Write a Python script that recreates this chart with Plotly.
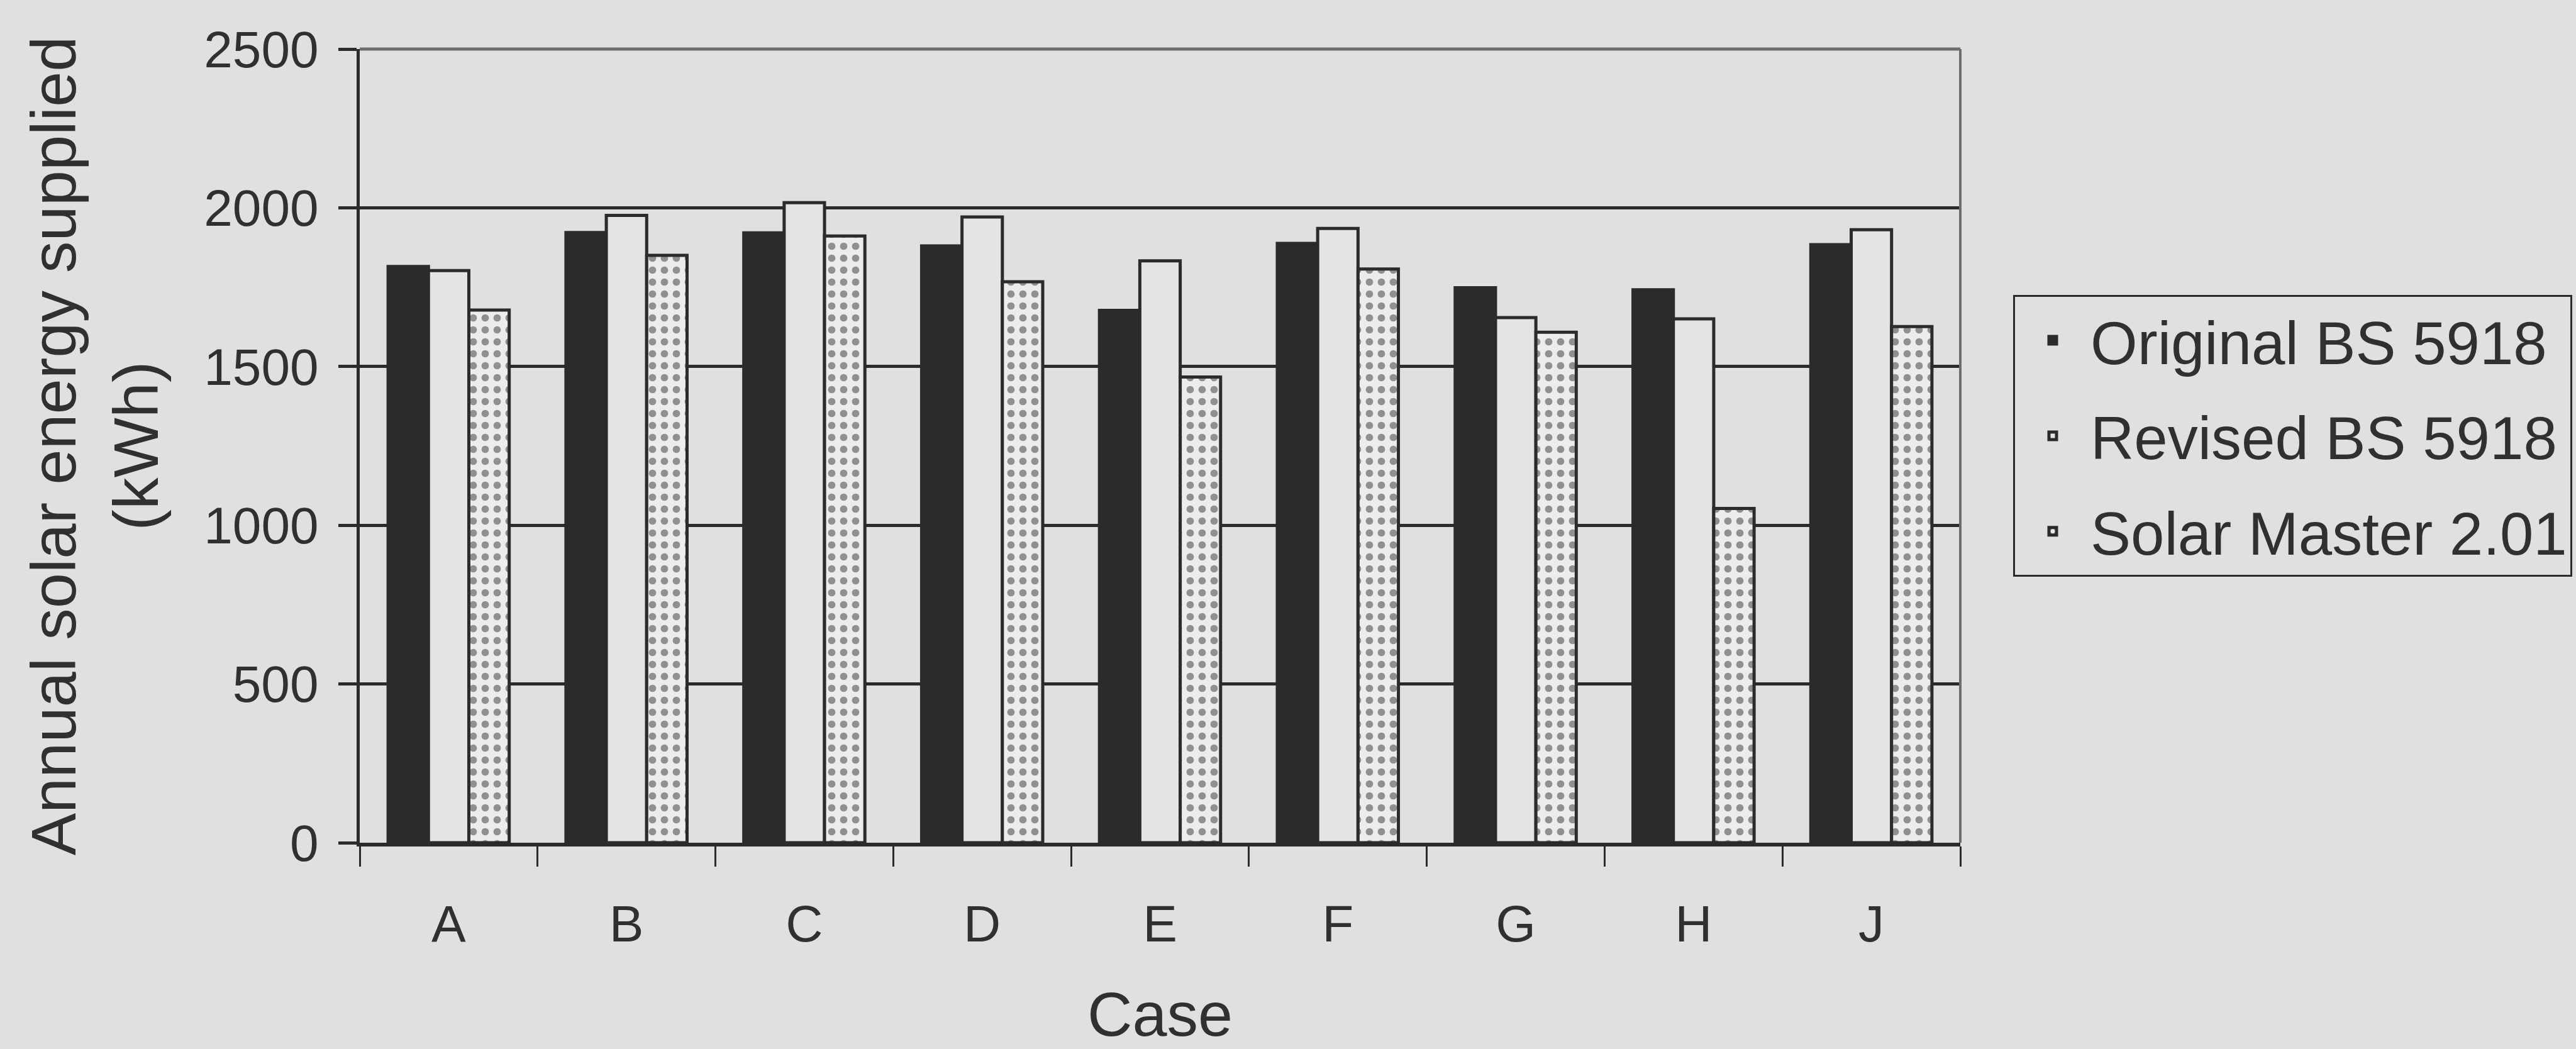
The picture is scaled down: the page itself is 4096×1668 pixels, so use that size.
import plotly.graph_objects as go

# ---- data ----
cases = ["A", "B", "C", "D", "E", "F", "G", "H", "J"]
original_bs5918 = [1815, 1922, 1921, 1880, 1677, 1888, 1748, 1742, 1884]
revised_bs5918 = [1802, 1976, 2016, 1971, 1833, 1935, 1654, 1650, 1931]
solar_master_201 = [1678, 1850, 1911, 1767, 1467, 1807, 1608, 1053, 1626]
y_tick_values = [0, 500, 1000, 1500, 2000, 2500]

# ---- styling ----
BG = "#e0e0e0"
INK = "#2b2b2b"
TXT = "#303030"
FONT = "Liberation Sans, Arial, sans-serif"

fig = go.Figure()
fig.add_trace(go.Bar(
    name="Original BS 5918", x=cases, y=original_bs5918, legendgroup="g1",
    marker=dict(color=INK, line=dict(color=INK, width=5)),
))
fig.add_trace(go.Bar(
    name="Revised BS 5918", x=cases, y=revised_bs5918, legendgroup="g2",
    marker=dict(color="#e4e4e4", line=dict(color=INK, width=5)),
))
fig.add_trace(go.Bar(
    name="Solar Master 2.01", x=cases, y=solar_master_201, legendgroup="g3",
    marker=dict(color="#ececec", line=dict(color=INK, width=5),
                pattern=dict(shape=".", fgcolor="#333333", bgcolor="#ececec",
                             size=19, solidity=0.3)),
))

fig.update_layout(
    width=4096, height=1668,
    paper_bgcolor=BG, plot_bgcolor=BG,
    margin=dict(l=572, r=979, t=78, b=328, autoexpand=False),
    barmode="group", bargap=0.319, bargroupgap=0,
    font=dict(family=FONT, color=TXT, size=82),
    showlegend=True,
    legend=dict(x=1.033, y=0.690, xanchor="left", yanchor="top",
                bgcolor="rgba(0,0,0,0)", bordercolor=INK, borderwidth=3,
                font=dict(size=96, color=TXT), tracegroupgap=24,
                itemwidth=110, traceorder="grouped"),
    shapes=[
        dict(type="line", xref="paper", yref="paper", x0=0, x1=1, y0=1, y1=1,
             line=dict(color="#6e6e6e", width=5), layer="above"),
        dict(type="line", xref="paper", yref="paper", x0=1, x1=1, y0=0, y1=1,
             line=dict(color="#6e6e6e", width=4), layer="above"),
    ],
)

fig.update_yaxes(
    range=[0, 2500], tickmode="array", tickvals=y_tick_values,
    ticks="outside", ticklen=29, tickwidth=5, tickcolor=INK,
    showline=True, linecolor=INK, linewidth=5,
    showgrid=True, gridcolor=INK, gridwidth=5, zeroline=False,
    tickfont=dict(size=82, color=TXT), ticklabelstandoff=15,
    title=dict(text="Annual solar energy supplied<br>(kWh)",
               font=dict(size=101, color=TXT), standoff=40),
)
fig.update_xaxes(
    type="category", tickson="boundaries",
    ticks="outside", ticklen=32, tickwidth=3, tickcolor=INK,
    showline=True, linecolor=INK, linewidth=6, showgrid=False,
    tickfont=dict(size=82, color=TXT), ticklabelstandoff=53,
    title=dict(text="Case", font=dict(size=99, color=TXT), standoff=84),
)

fig.write_html("out.html")
